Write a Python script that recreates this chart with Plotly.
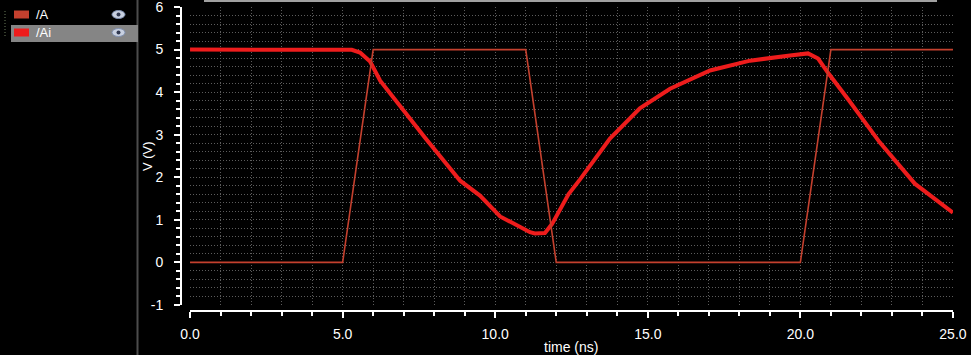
import plotly.graph_objects as go

# ---- data ----
t_A = [0, 5, 6, 11, 12, 20, 21, 25]
v_A = [0, 0, 5, 5, 0, 0, 5, 5]

t_Ai = [0, 5.0, 5.3, 5.57, 5.9, 6.23, 6.9, 7.7, 8.85, 9.5, 10.16, 10.8, 11.14, 11.3,
        11.63, 11.86, 12.12, 12.4, 12.78, 13.76, 14.74, 15.73, 17.04, 18.35, 19.66,
        20.25, 20.58, 20.9, 21.6, 22.6, 23.75, 25.0]
v_Ai = [5.0, 5.0, 4.995, 4.93, 4.72, 4.27, 3.65, 2.93, 1.92, 1.57, 1.08, 0.85, 0.71, 0.68,
        0.69, 0.9, 1.22, 1.6, 1.95, 2.91, 3.62, 4.08, 4.51, 4.74, 4.86,
        4.91, 4.79, 4.46, 3.80, 2.82, 1.85, 1.17]

x_ticks = [0, 5, 10, 15, 20, 25]
x_labels = ["0.0", "5.0", "10.0", "15.0", "20.0", "25.0"]
y_ticks = [-1, 0, 1, 2, 3, 4, 5, 6]
y_labels = ["-1", "0", "1", "2", "3", "4", "5", "6"]

names = ["/A", "/Ai"]
colors = ["#c4402e", "#ee1c1c"]

# ---- geometry helpers (layout only) ----
W, H = 971, 355
ML, MR, MT, MB = 181, 18, 7, 44
PW, PH = W - ML - MR, H - MT - MB


def px(x):
    return (x - ML) / PW


def py(y):
    return (H - MB - y) / PH


xdom = [px(190), 1]
ydom = [py(305), 1]
xr = [-0.002, 25.002]
yr = [-1.0005, 6.0005]

fig = go.Figure()
fig.add_trace(go.Scatter(x=t_Ai, y=v_Ai, mode="lines", name=names[1],
                         line=dict(color=colors[1], width=4), hoverinfo="skip"))
fig.add_trace(go.Scatter(x=t_A, y=v_A, mode="lines", name=names[0],
                         line=dict(color=colors[0], width=1.6), hoverinfo="skip"))
# dummy trace for the offset tick axes
fig.add_trace(go.Scatter(x=[None], y=[None], xaxis="x2", yaxis="y2",
                         showlegend=False, hoverinfo="skip"))

tickfont = dict(family="Liberation Sans", size=14, color="white")
grid = dict(showgrid=True, gridcolor="#5c5c5c", griddash="1px,2px", gridwidth=1)

fig.update_layout(
    width=W, height=H,
    margin=dict(l=ML, r=MR, t=MT, b=MB, autoexpand=False),
    paper_bgcolor="black", plot_bgcolor="black",
    showlegend=False,
    xaxis=dict(domain=xdom, range=xr, showline=False, zeroline=False, automargin=False,
               showticklabels=False, ticks="", tick0=0, dtick=5,
               **grid, minor=dict(dtick=1, **grid)),
    yaxis=dict(domain=ydom, range=yr, showline=False, zeroline=False, automargin=False,
               showticklabels=False, ticks="", tick0=0, dtick=1,
               **grid, minor=dict(dtick=0.2, **grid)),
    xaxis2=dict(overlaying="x", anchor="free", position=0, domain=xdom, automargin=False,
                range=xr, showline=True, linecolor="white", linewidth=2,
                showgrid=False, zeroline=False, ticklabeloverflow="allow",
                tickmode="array", tickvals=x_ticks, ticktext=x_labels,
                ticks="outside", ticklen=6, tickwidth=2, tickcolor="white",
                tickfont=tickfont, ticklabelstandoff=4,
                minor=dict(dtick=1, tick0=0, ticks="outside", ticklen=4,
                           tickwidth=2, tickcolor="white", showgrid=False)),
    yaxis2=dict(overlaying="y", anchor="free", position=0, domain=ydom, automargin=False,
                range=yr, showline=True, linecolor="white", linewidth=2,
                showgrid=False, zeroline=False, ticklabeloverflow="allow",
                tickmode="array", tickvals=y_ticks, ticktext=y_labels,
                ticks="outside", ticklen=6, tickwidth=2, tickcolor="white",
                tickfont=tickfont, ticklabelstandoff=8,
                minor=dict(dtick=0.2, tick0=0, ticks="outside", ticklen=4,
                           tickwidth=2, tickcolor="white", showgrid=False)),
)

shapes = []
annotations = []
# left panel separator
shapes.append(dict(type="line", xref="paper", yref="paper", x0=px(137.5), x1=px(137.5),
                   y0=py(0), y1=py(355), line=dict(color="#4c4c4c", width=2)))
# top gray bar
shapes.append(dict(type="rect", xref="paper", yref="paper", x0=px(204), x1=px(937),
                   y0=py(0), y1=py(2), fillcolor="#a0a0a0", line=dict(width=0)))
# highlighted legend row
shapes.append(dict(type="rect", xref="paper", yref="paper", x0=px(11), x1=px(138),
                   y0=py(25), y1=py(42), fillcolor="#858585", line=dict(width=0)))
# dotted tree line
shapes.append(dict(type="line", xref="paper", yref="paper", x0=px(5), x1=px(5),
                   y0=py(11), y1=py(36), line=dict(color="#6a7a5a", width=1, dash="1px,2px")))
rows = [14.5, 32.5]
for i, (nm, col) in enumerate(zip(names, colors)):
    yc = rows[i]
    shapes.append(dict(type="rect", xref="paper", yref="paper", x0=px(14), x1=px(29),
                       y0=py(yc - 4), y1=py(yc + 4), fillcolor=col, line=dict(width=0)))
    # eye icon
    shapes.append(dict(type="circle", xref="paper", yref="paper", x0=px(112), x1=px(125),
                       y0=py(yc - 4), y1=py(yc + 4), fillcolor="#c8d0e0",
                       line=dict(color="#8090b0", width=1)))
    shapes.append(dict(type="circle", xref="paper", yref="paper", x0=px(116.5), x1=px(120.5),
                       y0=py(yc - 2), y1=py(yc + 2), fillcolor="#303850", line=dict(width=0)))
    annotations.append(dict(text=nm, xref="paper", yref="paper", x=px(34), y=py(yc),
                            xanchor="left", yanchor="middle", showarrow=False,
                            font=dict(family="Liberation Sans", size=13, color="white")))

annotations.append(dict(text="V (V)", xref="paper", yref="paper", x=px(147), y=py(156),
                        textangle=-90, xanchor="center", yanchor="middle", showarrow=False,
                        font=dict(family="Liberation Sans", size=13, color="white")))
annotations.append(dict(text="time (ns)", xref="paper", yref="paper", x=px(571), y=py(347),
                        xanchor="center", yanchor="middle", showarrow=False,
                        font=dict(family="Liberation Sans", size=14, color="white")))

fig.update_layout(shapes=shapes, annotations=annotations)

fig.write_html("out.html")
